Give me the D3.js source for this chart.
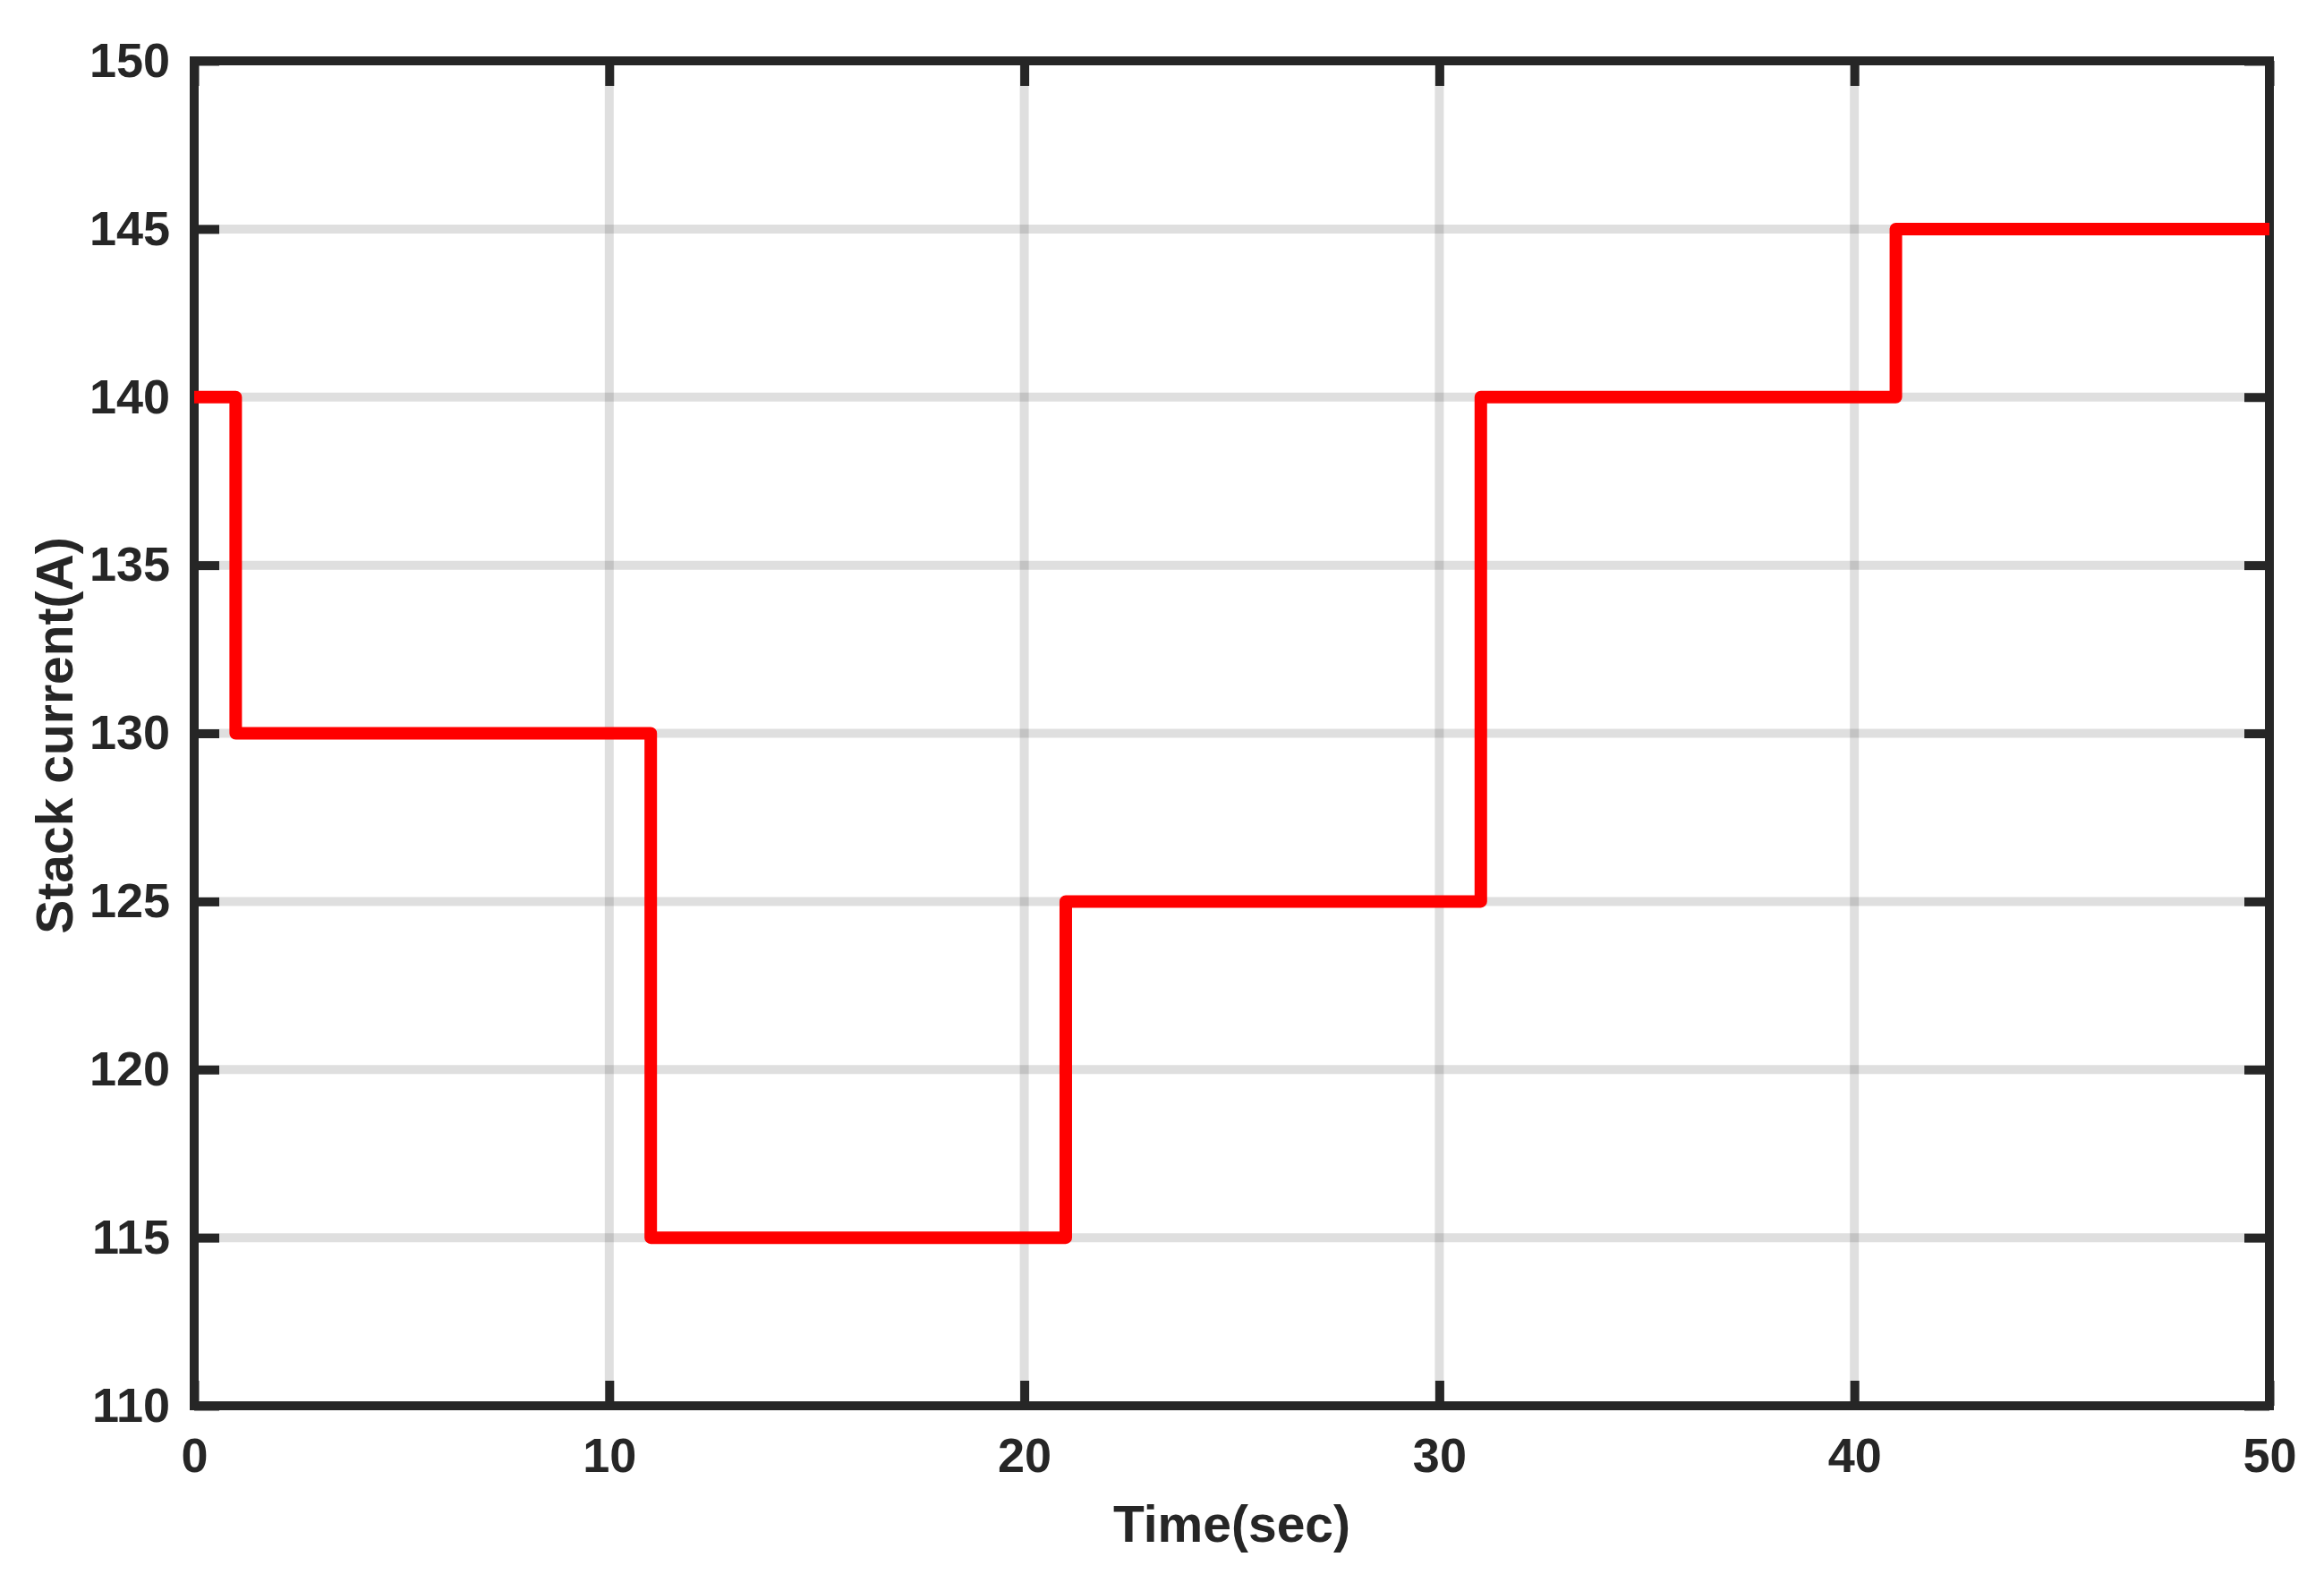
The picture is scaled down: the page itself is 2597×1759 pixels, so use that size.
<!DOCTYPE html>
<html>
<head>
<meta charset="utf-8">
<script src="https://cdn.jsdelivr.net/npm/d3@7"></script>
<style>
  html, body { margin: 0; padding: 0; background: #fff; }
  svg { display: block; }
  text { font-family: "Liberation Sans", Arial, sans-serif; font-weight: bold; fill: #262626; }
</style>
</head>
<body>
<script>
// Data (step changes in stack current)
const stepTimes = [0, 1, 11, 21, 31, 41, 50];
const stepValues = [140, 130, 115, 125, 140, 145, 145];
const xTicks = [0, 10, 20, 30, 40, 50];
const yTicks = [110, 115, 120, 125, 130, 135, 140, 145, 150];
const xLabel = "Time(sec)";
const yLabel = "Stack current(A)";

const W = 2597, H = 1759;
const m = { left: 217, right: W - 2536, top: 68, bottom: H - 1571 };
const iw = W - m.left - m.right, ih = H - m.top - m.bottom;

const svg = d3.select("body").append("svg").attr("width", W).attr("height", H);
const g = svg.append("g").attr("transform", `translate(${m.left},${m.top})`);

const x = d3.scaleLinear().domain([0, 50]).range([0, iw]);
const y = d3.scaleLinear().domain([110, 150]).range([ih, 0]);

const axisColor = "#262626";
const fs = 54;

// grid
g.append("g").selectAll("line").data(xTicks.slice(1, -1)).join("line")
  .attr("x1", d => x(d)).attr("x2", d => x(d)).attr("y1", 0).attr("y2", ih)
  .attr("stroke", "#262626").attr("stroke-opacity", 0.15).attr("stroke-width", 10);
g.append("g").selectAll("line").data(yTicks.slice(1, -1)).join("line")
  .attr("y1", d => y(d)).attr("y2", d => y(d)).attr("x1", 0).attr("x2", iw)
  .attr("stroke", "#262626").attr("stroke-opacity", 0.15).attr("stroke-width", 10);

function styleAxis(sel, hideText) {
  sel.select(".domain").remove();
  sel.selectAll(".tick line").attr("stroke", axisColor).attr("stroke-width", 10);
  sel.selectAll(".tick text").attr("font-size", fs).attr("fill", axisColor)
    .style("font-family", '"Liberation Sans", Arial, sans-serif').style("font-weight", "bold");
  if (hideText) sel.selectAll(".tick text").remove();
}

const tl = 28;
g.append("g").attr("transform", `translate(0,${ih})`)
  .call(d3.axisBottom(x).tickValues(xTicks).tickSize(-tl).tickPadding(36).tickFormat(d3.format("d")))
  .call(s => styleAxis(s, false));
g.append("g")
  .call(d3.axisTop(x).tickValues(xTicks).tickSize(-tl))
  .call(s => styleAxis(s, true));
g.append("g")
  .call(d3.axisLeft(y).tickValues(yTicks).tickSize(-tl).tickPadding(27).tickFormat(d3.format("d")))
  .call(s => styleAxis(s, false));
g.append("g").attr("transform", `translate(${iw},0)`)
  .call(d3.axisRight(y).tickValues(yTicks).tickSize(-tl))
  .call(s => styleAxis(s, true));

// box
g.append("rect").attr("x", 0).attr("y", 0).attr("width", iw).attr("height", ih)
  .attr("fill", "none").attr("stroke", axisColor).attr("stroke-width", 10);

// series
const pts = stepTimes.map((t, i) => [t, stepValues[i]]);
const line = d3.line().x(d => x(d[0])).y(d => y(d[1])).curve(d3.curveStepAfter);
g.append("path").datum(pts).attr("d", line)
  .attr("fill", "none").attr("stroke", "#ff0000").attr("stroke-width", 14)
  .attr("stroke-linejoin", "round");

// labels
svg.append("text").attr("x", m.left + iw / 2).attr("y", 1723)
  .attr("text-anchor", "middle").attr("font-size", 57).text(xLabel);
svg.append("text").attr("transform", `translate(81,822) rotate(-90)`)
  .attr("text-anchor", "middle").attr("font-size", 57).text(yLabel);
</script>
</body>
</html>
